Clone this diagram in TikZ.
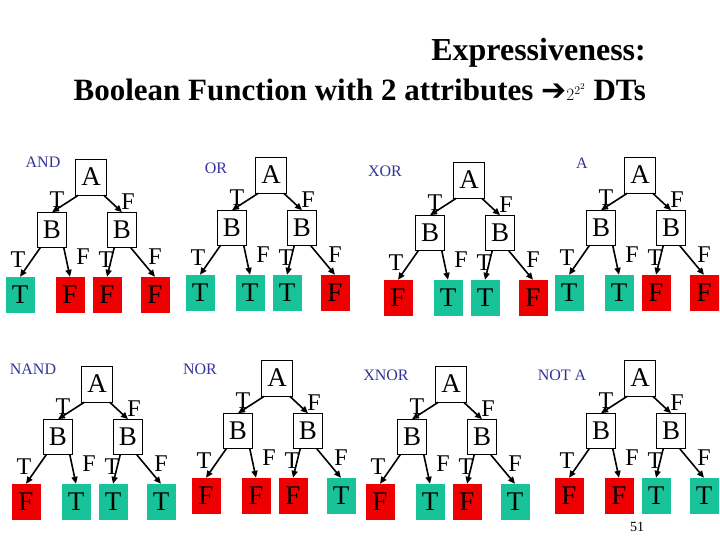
\documentclass[tikz,border=0pt]{standalone}
\usepackage{fontspec}
\setmainfont{Liberation Serif}
\newfontfamily\djv{DejaVu Sans}
\usetikzlibrary{arrows.meta}
\definecolor{lgreen}{HTML}{19C39A}
\definecolor{lred}{HTML}{EE0000}
\definecolor{lblue}{HTML}{333399}
\tikzset{
  box/.style={draw,line width=0.6pt,minimum width=31pt,minimum height=36pt,inner sep=0pt,font=\fontsize{27}{27}\selectfont},
  leafT/.style={fill=lgreen,minimum width=29pt,minimum height=36pt,inner sep=0pt,font=\fontsize{27}{27}\selectfont},
  leafF/.style={leafT,fill=lred},
  el/.style={font=\fontsize{24}{24}\selectfont,inner sep=0pt},
  ttl/.style={font=\fontsize{16}{16}\selectfont,text=lblue,inner sep=0pt},
  ar/.style={-{Triangle[length=7pt,width=6pt]},line width=1.6pt}
}
\newcommand{\mytree}[7]{%
  \node[box] (#1A) at (#2,#3) {A};
  \node[box,minimum width=29pt,minimum height=35pt] (#1BL) at (#2-39,#3+53) {B};
  \node[box,minimum width=29pt,minimum height=35pt] (#1BR) at (#2+31,#3+53) {B};
  \node[leaf#4] (#1L1) at (#2-71,#3+118) {#4};
  \node[leaf#5] (#1L2) at (#2-21,#3+118) {#5};
  \node[leaf#6] (#1L3) at (#2+16,#3+118) {#6};
  \node[leaf#7] (#1L4) at (#2+64,#3+118) {#7};
  \draw[ar] (#1A.south west)++(3,0) coordinate (#1a1) (#1a1) -- (#1BL.north);
  \draw[ar] (#1A.south east)++(-3,0) coordinate (#1a2) (#1a2) -- (#1BR.north);
  \draw[ar] (#1BL.south west)++(3,0) coordinate (#1b1) (#1b1) -- (#1L1.north);
  \draw[ar] (#1BL.south east)++(-3,0) coordinate (#1b2) (#1b2) -- (#1L2.north);
  \draw[ar] (#1BR.south west)++(7,0) coordinate (#1b3) (#1b3) -- (#1L3.north);
  \draw[ar] (#1BR.south east)++(-6,0) coordinate (#1b4) (#1b4) -- (#1L4.north);
  \node[el] (#1t1) at (#2-34,#3+23) {T};
  \node[el] (#1f1) at (#2+37,#3+25) {F};
  \node[el] (#1t2) at (#2-73,#3+83) {T};
  \node[el] (#1f2) at (#2-8,#3+80) {F};
  \node[el] (#1t3) at (#2+15,#3+83) {T};
  \node[el] (#1f3) at (#2+64,#3+80) {F};
}
\begin{document}
\begin{tikzpicture}[x=1pt,y=-1pt]
\useasboundingbox (0,0) rectangle (720,540);
\node[anchor=east,font=\bfseries\fontsize{32}{32}\selectfont,inner sep=0pt] (t1) at (646,53) {Expressiveness:};
\node[anchor=east,font=\bfseries\fontsize{31}{31}\selectfont,inner sep=0pt] (t2) at (646,90) {Boolean Function with 2 attributes {\djv\fontsize{30}{30}\selectfont ➔}{\mdseries\fontsize{18}{18}\selectfont$2^{2^{2}}$} DTs};
\mytree{a}{91}{177}TFFF
\node[ttl] (la) at (43,162) {AND};
\mytree{b}{271}{175}TTTF
\node[ttl] (lb) at (216,168) {OR};
\mytree{c}{469}{180}FTTF
\node[ttl] (lc) at (385,171) {XOR};
\mytree{d}{640}{175}TTFF
\node[ttl] (ld) at (582,163) {A};
\mytree{e}{97}{384}FTTT
\node[ttl] (le) at (33,369) {NAND};
\mytree{f}{277}{378}FFFT
\node[ttl] (lf) at (200,369) {NOR};
\mytree{g}{451}{384}FTFT
\node[ttl] (lg) at (386,375) {XNOR};
\mytree{h}{640}{378}FFTT
\node[ttl] (lh) at (562,375) {NOT A};
\node[font=\fontsize{14}{14}\selectfont,inner sep=0pt] (pg) at (637,527) {51};
\end{tikzpicture}
\end{document}
